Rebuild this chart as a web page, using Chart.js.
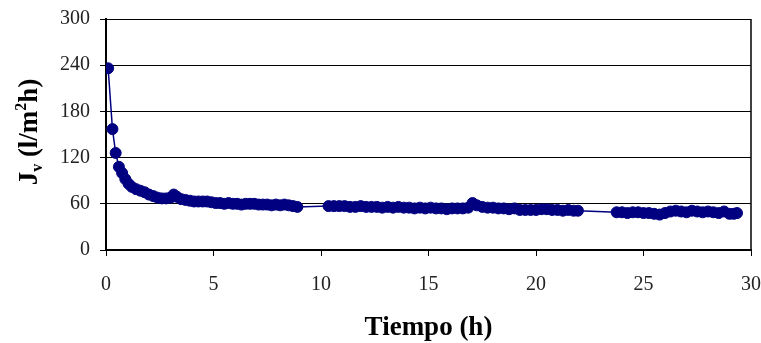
<!DOCTYPE html>
<html>
<head>
<meta charset="utf-8">
<script src="https://cdn.jsdelivr.net/npm/chart.js@4"></script>
<style>
  html, body { margin: 0; padding: 0; background: #fff; }
  #wrap { width: 761px; height: 343px; }
</style>
</head>
<body>
<div id="wrap"><canvas id="fluxChart" width="761" height="343"></canvas></div>
<script>
// permeate flux over time
const hours = [
    0.1, 0.3, 0.45, 0.6, 0.75, 0.9, 1.05, 1.2, 1.4, 1.6, 1.8, 2.0, 2.2, 2.4, 2.6, 2.8,
    3.0, 3.15, 3.3, 3.5, 3.7, 3.9, 4.1, 4.3, 4.5, 4.7, 4.9, 5.1, 5.3, 5.5, 5.7, 5.9,
    6.1, 6.3, 6.5, 6.7, 6.9, 7.1, 7.3, 7.5, 7.7, 7.9, 8.1, 8.3, 8.5, 8.7, 8.9,
    10.35, 10.6, 10.85, 11.1, 11.35, 11.6, 11.85, 12.1, 12.35, 12.6, 12.85, 13.1, 13.35,
    13.6, 13.85, 14.1, 14.35, 14.6, 14.85, 15.1, 15.35, 15.6, 15.85, 16.1, 16.35, 16.6,
    16.85, 17.05, 17.25, 17.5, 17.75, 18.0, 18.25, 18.5, 18.75, 19.0, 19.25, 19.5, 19.75,
    20.0, 20.25, 20.5, 20.75, 21.0, 21.25, 21.5, 21.75, 21.95,
    23.75, 24.0, 24.25, 24.5, 24.75, 25.0, 25.25, 25.5, 25.75, 26.0, 26.25, 26.5, 26.75,
    27.0, 27.25, 27.5, 27.75, 28.0, 28.25, 28.5, 28.75, 29.0, 29.2, 29.35
];
const flux = [
    236, 157, 126, 108, 100, 92, 86, 82, 79, 77, 75, 72, 70, 68, 67, 67,
    68, 72, 69, 66, 65, 64, 63, 63, 63, 63, 62, 61, 61, 60, 61, 60,
    60, 59, 60, 60, 60, 59, 59, 59, 58, 59, 58, 59, 58, 57, 56,
    57, 57, 57, 57, 56, 56, 57, 56, 56, 56, 55, 56, 55,
    56, 55, 55, 54, 55, 54, 55, 54, 54, 53, 54, 54, 54,
    55, 61, 58, 56, 55, 55, 54, 54, 53, 54, 52, 52, 52,
    52, 53, 53, 52, 52, 51, 52, 51, 51,
    49, 49, 48, 49, 49, 48, 48, 47, 46, 48, 50, 51, 50,
    49, 51, 50, 49, 50, 49, 48, 50, 47, 47, 48
];
const xTicks = [0, 5, 10, 15, 20, 25, 30];
const yTicks = [0, 60, 120, 180, 240, 300];

const serif = "'Liberation Serif', 'DejaVu Serif', serif";
const navy = '#000080';

// right edge of the plot frame + rotated y title with sub/superscripts
const framePlugin = {
    id: 'frame',
    afterDraw(chart) {
        const { ctx, chartArea } = chart;
        ctx.save();
        ctx.strokeStyle = '#000';
        ctx.lineWidth = 1.5;
        ctx.beginPath();
        ctx.moveTo(chartArea.right, chartArea.top);
        ctx.lineTo(chartArea.right, chartArea.bottom);
        ctx.stroke();

        const parts = [
            { t: 'J', size: 27, dy: 0 },
            { t: 'v', size: 16, dy: 5 },
            { t: ' (l/m', size: 27, dy: 0 },
            { t: '2', size: 16, dy: -11 },
            { t: 'h)', size: 27, dy: 0 }
        ];
        ctx.fillStyle = '#000';
        ctx.textBaseline = 'alphabetic';
        let total = 0;
        parts.forEach(p => {
            ctx.font = `bold ${p.size}px ${serif}`;
            p.w = ctx.measureText(p.t).width;
            total += p.w;
        });
        ctx.translate(37, 132);
        ctx.rotate(-Math.PI / 2);
        let x = -total / 2;
        parts.forEach(p => {
            ctx.font = `bold ${p.size}px ${serif}`;
            ctx.fillText(p.t, x, p.dy);
            x += p.w;
        });
        ctx.restore();
    }
};

new Chart(document.getElementById('fluxChart').getContext('2d'), {
    type: 'line',
    data: {
        datasets: [{
            data: hours.map((h, i) => ({ x: h, y: flux[i] })),
            borderColor: navy,
            borderWidth: 1.5,
            backgroundColor: navy,
            pointBackgroundColor: navy,
            pointBorderColor: navy,
            pointBorderWidth: 1,
            pointRadius: 5.5,
            tension: 0,
            fill: false
        }]
    },
    options: {
        responsive: false,
        animation: false,
        layout: { padding: { top: 19, right: 0, bottom: 0, left: 0 } },
        plugins: {
            legend: { display: false },
            tooltip: { enabled: false }
        },
        scales: {
            x: {
                type: 'linear',
                min: 0,
                max: 30,
                afterBuildTicks: scale => { scale.ticks = xTicks.map(v => ({ value: v })); },
                afterFit: scale => {
                    scale.height = 93;
                    scale.paddingRight = 10;
                },
                grid: {
                    drawOnChartArea: false,
                    tickLength: 6,
                    tickColor: '#000',
                    lineWidth: 1
                },
                border: { color: '#000', width: 2 },
                ticks: {
                    color: '#222',
                    padding: 17,
                    maxRotation: 0,
                    font: { family: serif, size: 20 }
                },
                title: {
                    display: true,
                    text: 'Tiempo (h)',
                    color: '#000',
                    padding: { top: 0, bottom: -1 },
                    font: { family: serif, size: 27, weight: 'bold' }
                }
            },
            y: {
                min: 0,
                max: 300,
                afterBuildTicks: scale => { scale.ticks = yTicks.map(v => ({ value: v })); },
                afterFit: scale => {
                    scale.width = 106;
                    scale.paddingTop = 0;
                },
                grid: {
                    color: '#000',
                    lineWidth: 1,
                    tickLength: 6,
                    tickColor: '#000'
                },
                border: { color: '#000', width: 2 },
                ticks: {
                    color: '#222',
                    padding: 10,
                    font: { family: serif, size: 20 }
                }
            }
        }
    },
    plugins: [framePlugin]
});
</script>
</body>
</html>
